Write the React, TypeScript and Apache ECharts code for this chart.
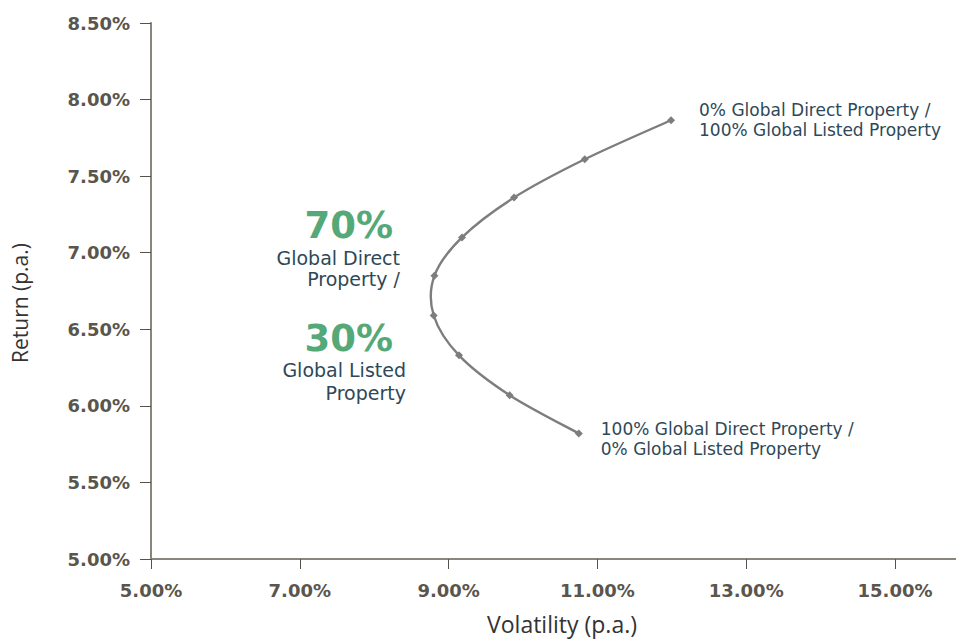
import React, { useEffect, useRef } from "react";
import * as echarts from "echarts";

// Efficient frontier: Global Direct vs Global Listed Property
const volatility = [10.75, 9.82, 9.14, 8.8, 8.81, 9.18, 9.88, 10.83, 11.99];
const returns = [5.82, 6.07, 6.33, 6.59, 6.85, 7.1, 7.36, 7.61, 7.865];
const endLabels = [
  "100% Global Direct Property /\n0% Global Listed Property",
  "0% Global Direct Property /\n100% Global Listed Property",
];
const xTicks = { min: 5, max: 15.82, interval: 2 };
const yTicks = { min: 5, max: 8.5, interval: 0.5 };
const xName = "Volatility (p.a.)";
const yName = "Return (p.a.)";
const callout = {
  topPct: "70%",
  topText: ["Global Direct", "Property /"],
  bottomPct: "30%",
  bottomText: ["Global Listed", "Property"],
};

const AXIS_COLOR = "#8a857c";
const LABEL_COLOR = "#5a554d";
const TEXT_DARK = "#2e4858";
const GREEN = "#55a878";
const LINE = "#7d7d7d";

export default function App() {
  const ref = useRef<HTMLDivElement>(null);
  useEffect(() => {
    if (!ref.current) return;
    const chart = echarts.init(ref.current, undefined, { renderer: "svg" });
    const last = volatility.length - 1;
    const pairs = volatility.map((v, i) => [v, returns[i]]);
    const pointData = pairs.map((p, i) => {
      const item: any = { value: p };
      if (i === 0) {
        item.label = {
          show: true,
          position: "right",
          distance: 18,
          offset: [0, 6],
          formatter: endLabels[0],
        };
      } else if (i === last) {
        item.label = {
          show: true,
          position: "right",
          distance: 24,
          offset: [0, 0],
          formatter: endLabels[1],
        };
      }
      return item;
    });
    const labelFont = {
      color: LABEL_COLOR,
      fontFamily: "DejaVu Sans, sans-serif",
      fontWeight: "bold" as const,
      fontSize: 18,
    };
    const noteFont = "DejaVu Sans, sans-serif";

    // Catmull-Rom curve through all points, in pixel space via the axes
    const renderCurve = (params: any, api: any) => {
      if (params.dataIndex !== 0) return null;
      const pts = pairs.map((p) => api.coord(p));
      const n = pts.length;
      let d = `M${pts[0][0]},${pts[0][1]}`;
      for (let i = 0; i < n - 1; i++) {
        const p0 = pts[Math.max(i - 1, 0)];
        const p1 = pts[i];
        const p2 = pts[i + 1];
        const p3 = pts[Math.min(i + 2, n - 1)];
        const c1x = p1[0] + (p2[0] - p0[0]) / 6;
        const c1y = p1[1] + (p2[1] - p0[1]) / 6;
        const c2x = p2[0] - (p3[0] - p1[0]) / 6;
        const c2y = p2[1] - (p3[1] - p1[1]) / 6;
        d += ` C${c1x},${c1y} ${c2x},${c2y} ${p2[0]},${p2[1]}`;
      }
      return {
        type: "path",
        shape: { pathData: d },
        style: { stroke: LINE, lineWidth: 2.4, fill: "none" },
      };
    };

    chart.setOption({
      animation: false,
      grid: { left: 151, right: 0, top: 23, bottom: 80, containLabel: false },
      xAxis: {
        type: "value",
        min: xTicks.min,
        max: xTicks.max,
        interval: xTicks.interval,
        axisLine: { show: true, lineStyle: { color: AXIS_COLOR, width: 2 } },
        axisTick: { show: true, length: 10, lineStyle: { color: "#55524c", width: 1 } },
        splitLine: { show: false },
        axisLabel: {
          ...labelFont,
          margin: 22,
          showMaxLabel: false,
          formatter: (v: number) => v.toFixed(2) + "%",
        },
      },
      yAxis: {
        type: "value",
        min: yTicks.min,
        max: yTicks.max,
        interval: yTicks.interval,
        axisLine: { show: true, lineStyle: { color: AXIS_COLOR, width: 2 } },
        axisTick: { show: true, length: 11, lineStyle: { color: "#55524c", width: 1 } },
        splitLine: { show: false },
        axisLabel: {
          ...labelFont,
          margin: 21,
          formatter: (v: number) => v.toFixed(2) + "%",
        },
      },
      series: [
        {
          type: "custom",
          coordinateSystem: "cartesian2d",
          data: pairs,
          renderItem: renderCurve,
          clip: false,
          silent: true,
        },
        {
          type: "scatter",
          data: pointData,
          symbol: "diamond",
          symbolSize: 8,
          itemStyle: { color: LINE, opacity: 1 },
          label: {
            color: TEXT_DARK,
            opacity: 1,
            fontFamily: noteFont,
            fontSize: 17,
            lineHeight: 20,
            align: "left",
          },
        },
      ],
      graphic: [
        {
          type: "text",
          x: 562,
          y: 624,
          style: {
            text: xName,
            align: "center",
            verticalAlign: "middle",
            fontFamily: "Open Sans, sans-serif",
            fontSize: 23,
            fill: "#333",
          },
        },
        {
          type: "text",
          x: 20,
          y: 303,
          rotation: Math.PI / 2,
          style: {
            text: yName,
            align: "center",
            verticalAlign: "middle",
            fontFamily: "Open Sans, sans-serif",
            fontSize: 21,
            fill: "#333",
          },
        },
        {
          type: "text",
          x: 393,
          y: 225,
          style: {
            text: callout.topPct,
            align: "right",
            verticalAlign: "middle",
            fontFamily: noteFont,
            fontWeight: "bold",
            fontSize: 37,
            fill: GREEN,
          },
        },
        {
          type: "text",
          x: 400,
          y: 268,
          style: {
            text: callout.topText.join("\n"),
            align: "right",
            verticalAlign: "middle",
            fontFamily: noteFont,
            fontSize: 19,
            lineHeight: 21,
            fill: TEXT_DARK,
          },
        },
        {
          type: "text",
          x: 393,
          y: 338,
          style: {
            text: callout.bottomPct,
            align: "right",
            verticalAlign: "middle",
            fontFamily: noteFont,
            fontWeight: "bold",
            fontSize: 37,
            fill: GREEN,
          },
        },
        {
          type: "text",
          x: 406,
          y: 381,
          style: {
            text: callout.bottomText.join("\n"),
            align: "right",
            verticalAlign: "middle",
            fontFamily: noteFont,
            fontSize: 19,
            lineHeight: 23,
            fill: TEXT_DARK,
          },
        },
      ],
    });
    return () => chart.dispose();
  }, []);
  return (
    <div
      ref={ref}
      style={{ position: "absolute", left: 0, top: 0, width: 956, height: 639 }}
    />
  );
}
